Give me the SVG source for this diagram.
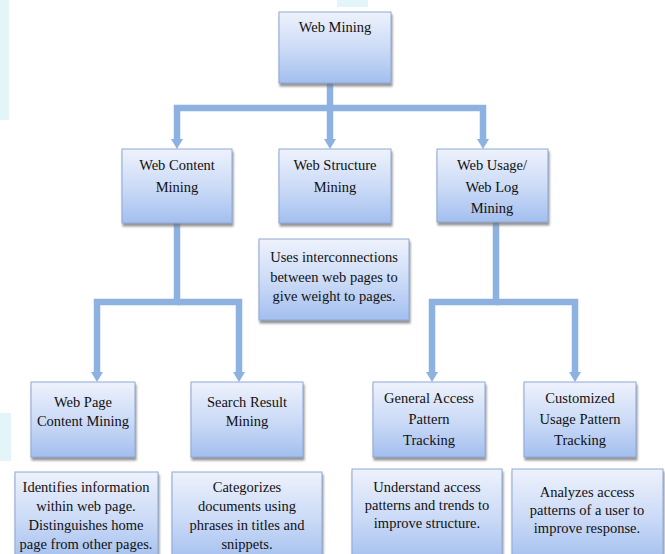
<svg xmlns="http://www.w3.org/2000/svg" width="665" height="554" viewBox="0 0 665 554">
<defs>
<linearGradient id="boxGrad" x1="0" y1="0" x2="0" y2="1">
<stop offset="0" stop-color="#eef2fc"/>
<stop offset="0.55" stop-color="#c9d9f6"/>
<stop offset="1" stop-color="#a3bfef"/>
</linearGradient>
<filter id="shadow" x="-10%" y="-10%" width="125%" height="130%">
<feDropShadow dx="1" dy="3" stdDeviation="0.8" flood-color="#6f6f6f" flood-opacity="0.75"/>
</filter>
<marker id="arrow" markerUnits="userSpaceOnUse" markerWidth="10" markerHeight="12" viewBox="0 0 10 12" refX="1" refY="6" orient="auto">
<path d="M0 0 L10 6 L0 12 Z" fill="#8db2e2"/>
</marker>
</defs>
<style>
.box{fill:url(#boxGrad);stroke:#8ea9d6;stroke-width:1;filter:url(#shadow)}
.lbl{font-family:'Liberation Serif','Times New Roman',serif;font-size:14.5px;fill:#111111;text-anchor:middle}
.conn{fill:none;stroke:#8db2e2;stroke-width:6.5;stroke-linejoin:miter;stroke-linecap:butt}
.wm{fill:#e4f5f9}
</style>
<rect width="665" height="554" fill="#ffffff"/>
<g id="background">
<rect class="wm" x="0" y="0" width="9" height="120"/>
<rect class="wm" x="337" y="0" width="31" height="7"/>
<rect class="wm" x="0" y="413" width="11" height="48"/>
</g>
<g id="connectors">
<path class="conn" d="M330 83 V140" marker-end="url(#arrow)"/>
<path class="conn" d="M330 108 H177 V140" marker-end="url(#arrow)"/>
<path class="conn" d="M330 108 H483 V140" marker-end="url(#arrow)"/>
<path class="conn" d="M177 223 V302 H97 V373" marker-end="url(#arrow)"/>
<path class="conn" d="M177 302 H239 V373" marker-end="url(#arrow)"/>
<path class="conn" d="M496 222 V302 H432 V373" marker-end="url(#arrow)"/>
<path class="conn" d="M496 302 H575 V373" marker-end="url(#arrow)"/>
</g>
<g id="web-mining">
<rect class="box" x="279" y="12" width="112" height="71"/>
<text class="lbl" x="335" y="32">Web Mining</text>
</g>
<g id="web-content-mining">
<rect class="box" x="122" y="149" width="110" height="74"/>
<text class="lbl" x="177" y="170">Web Content</text>
<text class="lbl" x="177" y="192">Mining</text>
</g>
<g id="web-structure-mining">
<rect class="box" x="279" y="149" width="112" height="74"/>
<text class="lbl" x="335" y="170">Web Structure</text>
<text class="lbl" x="335" y="192">Mining</text>
</g>
<g id="web-usage-mining">
<rect class="box" x="437" y="149" width="111" height="73"/>
<text class="lbl" x="492" y="170">Web Usage/</text>
<text class="lbl" x="492" y="192">Web Log</text>
<text class="lbl" x="492" y="213">Mining</text>
</g>
<g id="structure-desc">
<rect class="box" x="259" y="239" width="150" height="81"/>
<text class="lbl" x="334" y="262">Uses interconnections</text>
<text class="lbl" x="334" y="282">between web pages to</text>
<text class="lbl" x="334" y="301">give weight to pages.</text>
</g>
<g id="web-page-content-mining">
<rect class="box" x="31" y="382" width="104" height="75"/>
<text class="lbl" x="83" y="407">Web Page</text>
<text class="lbl" x="83" y="426">Content Mining</text>
</g>
<g id="search-result-mining">
<rect class="box" x="191" y="382" width="112" height="75"/>
<text class="lbl" x="247" y="407">Search Result</text>
<text class="lbl" x="247" y="426">Mining</text>
</g>
<g id="general-access-pattern-tracking">
<rect class="box" x="373" y="382" width="112" height="75"/>
<text class="lbl" x="429" y="403">General Access</text>
<text class="lbl" x="429" y="424">Pattern</text>
<text class="lbl" x="429" y="445">Tracking</text>
</g>
<g id="customized-usage-pattern-tracking">
<rect class="box" x="524" y="382" width="112" height="75"/>
<text class="lbl" x="580" y="403">Customized</text>
<text class="lbl" x="580" y="424">Usage Pattern</text>
<text class="lbl" x="580" y="445">Tracking</text>
</g>
<g id="web-page-desc">
<rect class="box" x="15" y="472" width="143" height="90"/>
<text class="lbl" x="86" y="492">Identifies information</text>
<text class="lbl" x="86" y="511">within web page.</text>
<text class="lbl" x="86" y="530">Distinguishes home</text>
<text class="lbl" x="86" y="549">page from other pages.</text>
</g>
<g id="search-result-desc">
<rect class="box" x="172" y="472" width="150" height="90"/>
<text class="lbl" x="247" y="492">Categorizes</text>
<text class="lbl" x="247" y="511">documents using</text>
<text class="lbl" x="247" y="530">phrases in titles and</text>
<text class="lbl" x="247" y="549">snippets.</text>
</g>
<g id="general-access-desc">
<rect class="box" x="352" y="469" width="150" height="93"/>
<text class="lbl" x="427" y="492">Understand access</text>
<text class="lbl" x="427" y="510">patterns and trends to</text>
<text class="lbl" x="427" y="528">improve structure.</text>
</g>
<g id="customized-usage-desc">
<rect class="box" x="512" y="469" width="151" height="93"/>
<text class="lbl" x="587" y="497">Analyzes access</text>
<text class="lbl" x="587" y="515">patterns of a user to</text>
<text class="lbl" x="587" y="533">improve response.</text>
</g>
</svg>
